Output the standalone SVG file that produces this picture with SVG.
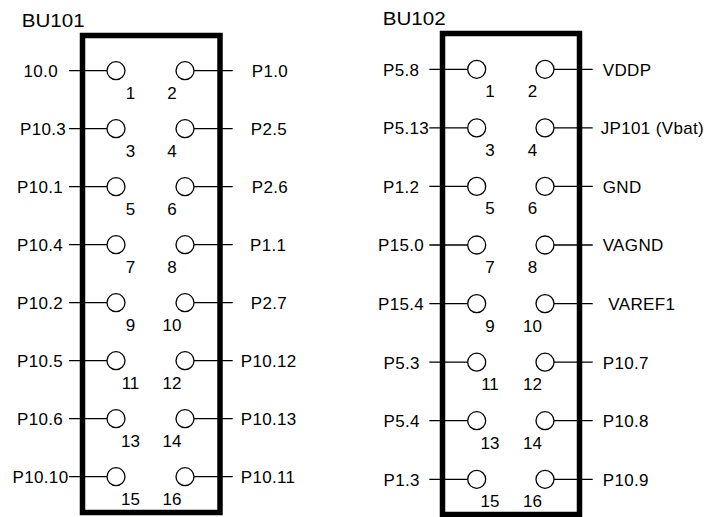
<svg xmlns="http://www.w3.org/2000/svg" width="707" height="517" viewBox="0 0 707 517">
<style>
text{font-family:"Liberation Sans",Arial,sans-serif;font-size:17px;fill:#000;letter-spacing:0.35px}
.t{font-size:17.5px;letter-spacing:0}
.n{text-anchor:middle;letter-spacing:0}
.box{fill:none;stroke:#000;stroke-width:5.5}
.pin{fill:#fff;stroke:#000;stroke-width:1.3}
.w{stroke:#000;stroke-width:1.3;fill:none}
</style>
<rect width="707" height="517" fill="#fff"/>
<g id="BU101">
<text class="t" x="21.7" y="27.3" textLength="63" lengthAdjust="spacingAndGlyphs">BU101</text>
<rect class="box" x="82.5" y="35.5" width="137.5" height="477"/>
</g>
<g id="BU102">
<text class="t" x="382.7" y="25" textLength="63" lengthAdjust="spacingAndGlyphs">BU102</text>
<rect class="box" x="442.5" y="33.5" width="137" height="481"/>
</g>
<g id="connectors">
<path class="w" d="M69 70.7H107M194 70.7H232.7M69 128.7H107M194 128.7H232.7M69 186.7H107M194 186.7H232.7M69 244.7H107M194 244.7H232.7M69 302.7H107M194 302.7H232.7M69 360.7H107M194 360.7H232.7M69 418.7H107M194 418.7H232.7M69 476.7H107M194 476.7H232.7"/>
<path class="w" d="M429.3 69.3H467.7M554 69.3H592.7M429.3 127.9H467.7M554 127.9H592.7M429.3 186.4H467.7M554 186.4H592.7M429.3 245H467.7M554 245H592.7M429.3 303.6H467.7M554 303.6H592.7M429.3 362.2H467.7M554 362.2H592.7M429.3 420.7H467.7M554 420.7H592.7M429.3 479.3H467.7M554 479.3H592.7"/>
</g>
<g id="BU101-pins">
<g id="bu101-p1"><circle class="pin" cx="116" cy="70.7" r="9"/><text class="n" x="130.5" y="99">1</text><text x="23.5" y="77">10.0</text></g>
<g id="bu101-p2"><circle class="pin" cx="185" cy="70.7" r="9"/><text class="n" x="172" y="99">2</text><text x="251.7" y="77">P1.0</text></g>
<g id="bu101-p3"><circle class="pin" cx="116" cy="128.7" r="9"/><text class="n" x="130.5" y="157">3</text><text x="20" y="135">P10.3</text></g>
<g id="bu101-p4"><circle class="pin" cx="185" cy="128.7" r="9"/><text class="n" x="172" y="157">4</text><text x="250.7" y="135">P2.5</text></g>
<g id="bu101-p5"><circle class="pin" cx="116" cy="186.7" r="9"/><text class="n" x="130.5" y="215">5</text><text x="17" y="193">P10.1</text></g>
<g id="bu101-p6"><circle class="pin" cx="185" cy="186.7" r="9"/><text class="n" x="172" y="215">6</text><text x="251.7" y="193">P2.6</text></g>
<g id="bu101-p7"><circle class="pin" cx="116" cy="244.7" r="9"/><text class="n" x="130.5" y="273">7</text><text x="17" y="251">P10.4</text></g>
<g id="bu101-p8"><circle class="pin" cx="185" cy="244.7" r="9"/><text class="n" x="172" y="273">8</text><text x="250" y="251">P1.1</text></g>
<g id="bu101-p9"><circle class="pin" cx="116" cy="302.7" r="9"/><text class="n" x="130.5" y="331">9</text><text x="17" y="309">P10.2</text></g>
<g id="bu101-p10"><circle class="pin" cx="185" cy="302.7" r="9"/><text class="n" x="172" y="331">10</text><text x="250.7" y="309">P2.7</text></g>
<g id="bu101-p11"><circle class="pin" cx="116" cy="360.7" r="9"/><text class="n" x="130.5" y="389">11</text><text x="17" y="367">P10.5</text></g>
<g id="bu101-p12"><circle class="pin" cx="185" cy="360.7" r="9"/><text class="n" x="172" y="389">12</text><text x="240.7" y="367">P10.12</text></g>
<g id="bu101-p13"><circle class="pin" cx="116" cy="418.7" r="9"/><text class="n" x="130.5" y="447">13</text><text x="17" y="425">P10.6</text></g>
<g id="bu101-p14"><circle class="pin" cx="185" cy="418.7" r="9"/><text class="n" x="172" y="447">14</text><text x="240.7" y="425">P10.13</text></g>
<g id="bu101-p15"><circle class="pin" cx="116" cy="476.7" r="9"/><text class="n" x="130.5" y="505">15</text><text x="12.5" y="483">P10.10</text></g>
<g id="bu101-p16"><circle class="pin" cx="185" cy="476.7" r="9"/><text class="n" x="172" y="505">16</text><text x="240.7" y="483">P10.11</text></g>
</g>
<g id="BU102-pins">
<g id="bu102-p1"><circle class="pin" cx="476.7" cy="69.3" r="9"/><text class="n" x="490" y="97.3">1</text><text x="383" y="75.6">P5.8</text></g>
<g id="bu102-p2"><circle class="pin" cx="545" cy="69.3" r="9"/><text class="n" x="532.5" y="97.3">2</text><text x="602.7" y="75.6">VDDP</text></g>
<g id="bu102-p3"><circle class="pin" cx="476.7" cy="127.9" r="9"/><text class="n" x="490" y="155.9">3</text><text x="383" y="134.2">P5.13</text></g>
<g id="bu102-p4"><circle class="pin" cx="545" cy="127.9" r="9"/><text class="n" x="532.5" y="155.9">4</text><text x="600.7" y="134.2">JP101 (Vbat)</text></g>
<g id="bu102-p5"><circle class="pin" cx="476.7" cy="186.4" r="9"/><text class="n" x="490" y="214.4">5</text><text x="383" y="192.7">P1.2</text></g>
<g id="bu102-p6"><circle class="pin" cx="545" cy="186.4" r="9"/><text class="n" x="532.5" y="214.4">6</text><text x="602.7" y="192.7">GND</text></g>
<g id="bu102-p7"><circle class="pin" cx="476.7" cy="245" r="9"/><text class="n" x="490" y="273">7</text><text x="378" y="251.3">P15.0</text></g>
<g id="bu102-p8"><circle class="pin" cx="545" cy="245" r="9"/><text class="n" x="532.5" y="273">8</text><text x="602.7" y="251.3">VAGND</text></g>
<g id="bu102-p9"><circle class="pin" cx="476.7" cy="303.6" r="9"/><text class="n" x="490" y="331.6">9</text><text x="378" y="309.9">P15.4</text></g>
<g id="bu102-p10"><circle class="pin" cx="545" cy="303.6" r="9"/><text class="n" x="532.5" y="331.6">10</text><text x="608.3" y="309.9">VAREF1</text></g>
<g id="bu102-p11"><circle class="pin" cx="476.7" cy="362.2" r="9"/><text class="n" x="490" y="390.2">11</text><text x="383.5" y="368.5">P5.3</text></g>
<g id="bu102-p12"><circle class="pin" cx="545" cy="362.2" r="9"/><text class="n" x="532.5" y="390.2">12</text><text x="602.7" y="368.5">P10.7</text></g>
<g id="bu102-p13"><circle class="pin" cx="476.7" cy="420.7" r="9"/><text class="n" x="490" y="448.7">13</text><text x="383.5" y="427">P5.4</text></g>
<g id="bu102-p14"><circle class="pin" cx="545" cy="420.7" r="9"/><text class="n" x="532.5" y="448.7">14</text><text x="602.7" y="427">P10.8</text></g>
<g id="bu102-p15"><circle class="pin" cx="476.7" cy="479.3" r="9"/><text class="n" x="490" y="507">15</text><text x="383.5" y="485.6">P1.3</text></g>
<g id="bu102-p16"><circle class="pin" cx="545" cy="479.3" r="9"/><text class="n" x="532.5" y="507">16</text><text x="602.7" y="485.6">P10.9</text></g>
</g>
</svg>
